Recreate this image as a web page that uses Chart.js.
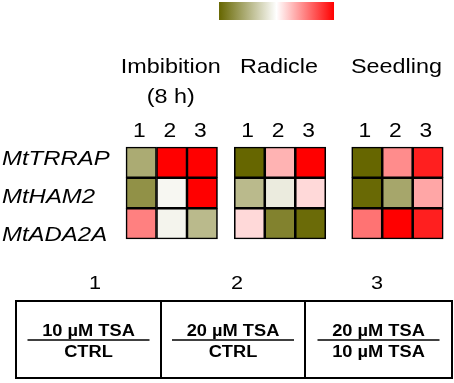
<!DOCTYPE html>
<html>
<head>
<meta charset="utf-8">
<script src="https://cdn.jsdelivr.net/npm/chart.js@4"></script>
<style>
  html, body { margin: 0; padding: 0; background: #fff; }
  #heat { display: block; }
</style>
</head>
<body>
<canvas id="heat" width="454" height="383"></canvas>
<script>
// data: log ratio scaled to -1 (olive, down) .. 1 (red, up)
const conditions = [['Imbibition', '(8 h)'], ['Radicle'], ['Seedling']];
const genes = ['MtTRRAP', 'MtHAM2', 'MtADA2A'];
const ratioLabels = ['1', '2', '3'];
// rows = genes, columns = ratio 1..3
const imbibition = [[-0.55, 1, 1], [-0.72, -0.05, 1], [0.5, -0.07, -0.45]];
const radicle = [[-1, 0.3, 1], [-0.45, -0.13, 0.15], [0.15, -0.82, -0.97]];
const seedling = [[-1, 0.45, 0.88], [-0.98, -0.58, 0.35], [0.55, 1, 0.88]];
const tableTop = ['10 \u00b5M TSA', '20 \u00b5M TSA', '20 \u00b5M TSA'];
const tableBottom = ['CTRL', 'CTRL', '10 \u00b5M TSA'];

const panels = [imbibition, radicle, seedling];
const panelStart = [0, 3.55, 7.4];

const OLIVE = [102, 102, 0];
const RED = [255, 0, 0];
function colorFor(v) {
    const c = v < 0 ? OLIVE : RED;
    const t = Math.min(1, Math.abs(v));
    const m = (k) => Math.round(255 + (c[k] - 255) * t);
    return 'rgb(' + m(0) + ',' + m(1) + ',' + m(2) + ')';
}

const cells = [];
const colors = [];
panels.forEach((panel, p) => {
    panel.forEach((row, r) => {
        row.forEach((v, c) => {
            cells.push({ x: panelStart[p] + c + 0.5, y: [2 - r, 3 - r] });
            colors.push(colorFor(v));
        });
    });
});

const FONT = '"Liberation Sans", Arial, sans-serif';
const SX = 1.14;

function stretchText(ctx, str, x, y, font, align) {
    ctx.save();
    ctx.translate(x, y);
    ctx.scale(SX, 1);
    ctx.font = font;
    ctx.textAlign = align;
    ctx.textBaseline = 'alphabetic';
    ctx.fillStyle = '#000';
    ctx.fillText(str, 0, 0);
    ctx.restore();
}

const decorations = {
    id: 'decorations',
    afterDraw(chart) {
        const ctx = chart.ctx;
        const x = chart.scales.x;

        // colour key
        const kx0 = x.getPixelForValue(3.05), kx1 = x.getPixelForValue(6.82);
        const grad = ctx.createLinearGradient(kx0, 0, kx1, 0);
        grad.addColorStop(0, colorFor(-1));
        grad.addColorStop(0.5, '#ffffff');
        grad.addColorStop(1, colorFor(1));
        ctx.fillStyle = grad;
        ctx.fillRect(kx0, 2, kx1 - kx0, 18);

        // panel titles and column numbers
        conditions.forEach((lines, p) => {
            const cx = x.getPixelForValue(panelStart[p] + 1.5);
            lines.forEach((t, i) => {
                stretchText(ctx, t, cx - 1, 73 + i * 30, '20.5px ' + FONT, 'center');
            });
            ratioLabels.forEach((t, c) => {
                stretchText(ctx, t, x.getPixelForValue(panelStart[p] + c + 0.5) - 2, 137, '20px ' + FONT, 'center');
            });
        });

        // gene labels
        const base = [165, 203, 241];
        genes.forEach((g, r) => {
            stretchText(ctx, g, 2, base[r], 'italic 21px ' + FONT, 'left');
        });

        // ratio key table
        const tx = [16, 161, 305, 452];
        const numX = [95, 237, 377];
        const ty0 = 301, ty1 = 378;
        ctx.save();
        ctx.strokeStyle = '#000';
        ctx.lineWidth = 2;
        ctx.strokeRect(tx[0], ty0, tx[3] - tx[0], ty1 - ty0);
        ctx.beginPath();
        ctx.moveTo(tx[1], ty0); ctx.lineTo(tx[1], ty1);
        ctx.moveTo(tx[2], ty0); ctx.lineTo(tx[2], ty1);
        ctx.stroke();
        ctx.restore();
        for (let i = 0; i < 3; i++) {
            const cx = (tx[i] + tx[i + 1]) / 2;
            stretchText(ctx, ratioLabels[i], numX[i], 289, '19px ' + FONT, 'center');
            stretchText(ctx, tableTop[i], cx, 336, 'bold 16px ' + FONT, 'center');
            stretchText(ctx, tableBottom[i], cx, 357, 'bold 16px ' + FONT, 'center');
            ctx.save();
            ctx.strokeStyle = '#000';
            ctx.lineWidth = 1.5;
            ctx.beginPath();
            ctx.moveTo(cx - 61, 340);
            ctx.lineTo(cx + 61, 340);
            ctx.stroke();
            ctx.restore();
        }
    }
};

const ctx = document.getElementById('heat').getContext('2d');

const grafico = new Chart(ctx, {
    type: 'bar',
    data: {
        datasets: [{
            label: 'expression',
            data: cells,
            backgroundColor: colors,
            borderColor: '#000',
            borderWidth: 1.6,
            borderSkipped: false,
            grouped: false,
            barPercentage: 1,
            categoryPercentage: 1
        }]
    },
    options: {
        responsive: false,
        animation: false,
        layout: { padding: 0 },
        plugins: {
            legend: { display: false },
            tooltip: { enabled: false }
        },
        scales: {
            x: {
                type: 'linear',
                display: false,
                offset: false,
                bounds: 'data',
                min: -4.131,
                max: 10.754,
                ticks: { stepSize: 5, includeBounds: false }
            },
            y: {
                type: 'linear',
                display: false,
                bounds: 'data',
                min: -4.695,
                max: 7.793,
                ticks: { stepSize: 5, includeBounds: false }
            }
        }
    },
    plugins: [decorations]
});
</script>
</body>
</html>
